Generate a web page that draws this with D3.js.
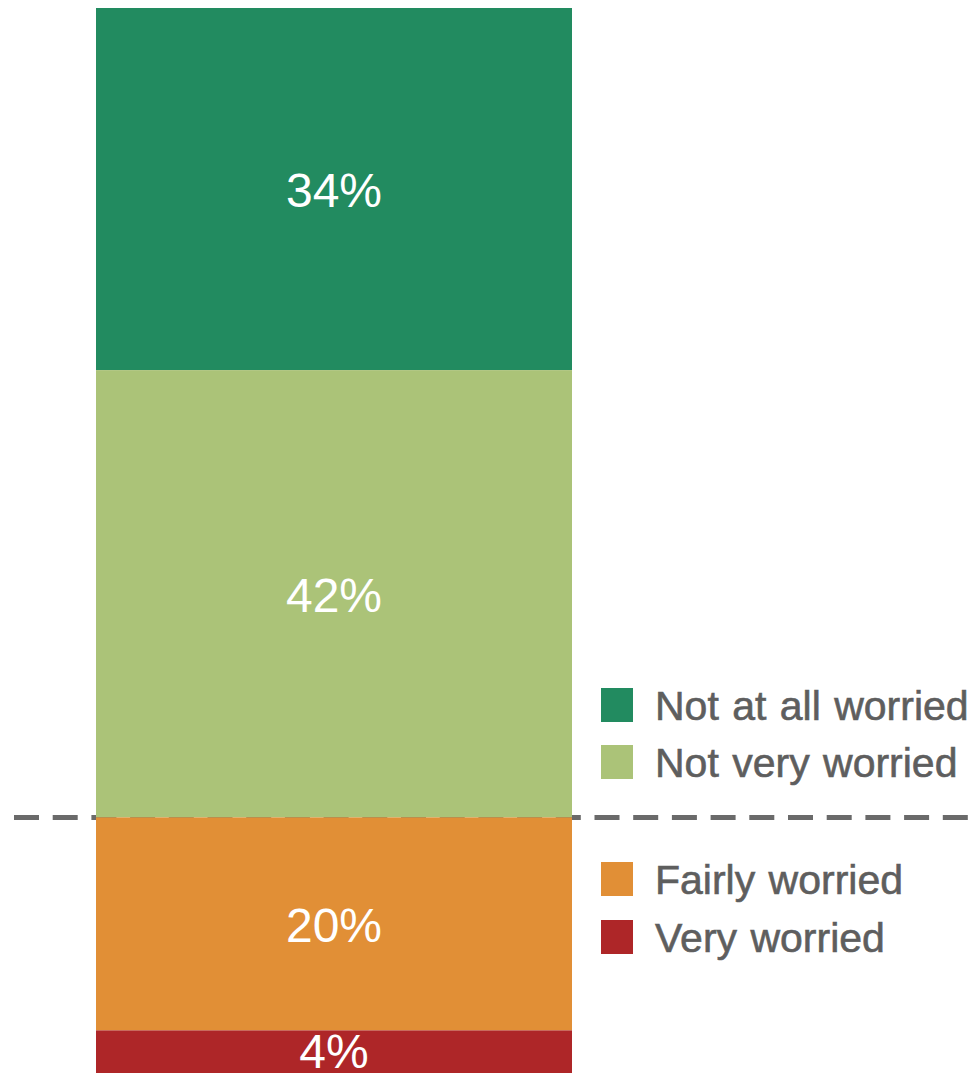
<!DOCTYPE html>
<html>
<head>
<meta charset="utf-8">
<script src="https://cdn.jsdelivr.net/npm/d3@7"></script>
<style>
  body { margin: 0; background: #fff; }
  svg { display: block; font-family: "Liberation Sans", Arial, sans-serif; }
</style>
</head>
<body>
<svg id="chart"></svg>
<script>
// stacked from top to bottom
const categories = ["Not at all worried", "Not very worried", "Fairly worried", "Very worried"];
const values = [34, 42, 20, 4];
const colors = ["#228b60", "#abc378", "#e18f36", "#ae2628"];
// legend rows: which category sits above / below the dashed divider
const legendTop = ["Not at all worried", "Not very worried"];
const legendBottom = ["Fairly worried", "Very worried"];

const width = 970, height = 1075;

const svg = d3.select("#chart")
  .attr("width", width)
  .attr("height", height);

const y = d3.scaleLinear().domain([0, 100]).range([8, 1073]);
const x = d3.scaleBand().domain(["all"]).range([96, 572]).padding(0);
const color = d3.scaleOrdinal().domain(categories).range(colors);

// cumulative stack
let acc = 0;
const stacked = categories.map((c, i) => {
  const d = { cat: c, value: values[i], y0: acc, y1: acc + values[i] };
  acc += values[i];
  return d;
});

// dashed divider between "not worried" and "worried", behind the bar
const divide = stacked[1].y1;
svg.append("line")
  .attr("x1", 14)
  .attr("x2", 968)
  .attr("y1", y(divide))
  .attr("y2", y(divide))
  .attr("stroke", "#6a6a6a")
  .attr("stroke-width", 5)
  .attr("stroke-dasharray", "25,13.7");

svg.selectAll(".seg")
  .data(stacked)
  .join("rect")
  .attr("class", "seg")
  .attr("x", x("all"))
  .attr("width", x.bandwidth())
  .attr("y", d => y(d.y0))
  .attr("height", d => y(d.y1) - y(d.y0))
  .attr("fill", d => color(d.cat));

svg.selectAll(".lbl")
  .data(stacked)
  .join("text")
  .attr("class", "lbl")
  .attr("x", x("all") + x.bandwidth() / 2)
  .attr("y", d => (y(d.y0) + y(d.y1)) / 2)
  .attr("dy", d => d.value < 8 ? "0.33em" : "0.38em")
  .attr("text-anchor", "middle")
  .attr("fill", "#fff")
  .style("font-size", "48px")
  .text(d => d.value + "%");

// legend
const legendRows = [
  ...legendTop.map((c, i) => ({ cat: c, top: 688 + i * 57 })),
  ...legendBottom.map((c, i) => ({ cat: c, top: 862 + i * 58 }))
];

const lg = svg.selectAll(".leg")
  .data(legendRows)
  .join("g")
  .attr("class", "leg")
  .attr("transform", d => `translate(601,${d.top})`);

lg.append("rect")
  .attr("width", 32)
  .attr("height", 34)
  .attr("fill", d => color(d.cat));

lg.append("text")
  .attr("x", 54)
  .attr("y", 17)
  .attr("dy", "0.36em")
  .attr("fill", "#5e5e5e")
  .attr("stroke", "#5e5e5e")
  .attr("stroke-width", 0.6)
  .style("font-size", "41px")
  .style("word-spacing", "2px")
  .text(d => d.cat);
</script>
</body>
</html>
